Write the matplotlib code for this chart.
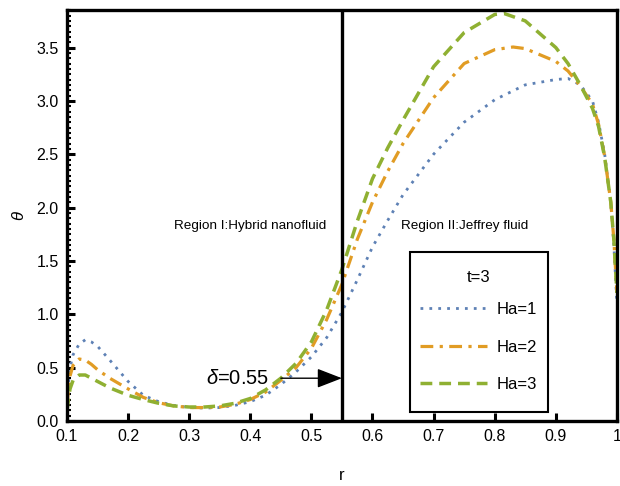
import matplotlib
matplotlib.use("Agg")
import matplotlib.pyplot as plt
from matplotlib.ticker import MultipleLocator, FixedLocator
from matplotlib.patches import Rectangle

plt.rcParams['font.family'] = ['Liberation Sans', 'DejaVu Sans']
plt.rcParams['mathtext.fontset'] = 'custom'
plt.rcParams['mathtext.it'] = 'Liberation Sans:italic'
plt.rcParams['mathtext.rm'] = 'Liberation Sans'

# ---- data ----
r1 = [0.1, 0.105, 0.11, 0.12, 0.13, 0.14, 0.15, 0.17, 0.2, 0.225, 0.25, 0.275, 0.3, 0.325, 0.35,
      0.375, 0.4, 0.425, 0.45, 0.475, 0.5, 0.525, 0.55, 0.575, 0.6, 0.625, 0.65, 0.7, 0.75, 0.8,
      0.85, 0.9, 0.92, 0.94, 0.96, 0.97, 0.98, 0.99, 0.995, 1.0]
ha1 = [0.2, 0.5, 0.62, 0.72, 0.76, 0.74, 0.70, 0.57, 0.37, 0.24, 0.18, 0.145, 0.125, 0.12, 0.125,
       0.145, 0.18, 0.24, 0.34, 0.46, 0.6, 0.78, 1.02, 1.32, 1.63, 1.88, 2.12, 2.5, 2.8, 3.01,
       3.15, 3.2, 3.21, 3.15, 3.0, 2.8, 2.5, 2.05, 1.65, 1.1]

r2 = [0.1, 0.105, 0.11, 0.12, 0.13, 0.14, 0.15, 0.17, 0.2, 0.225, 0.25, 0.275, 0.3, 0.325, 0.35,
      0.375, 0.4, 0.425, 0.45, 0.475, 0.5, 0.525, 0.55, 0.575, 0.6, 0.625, 0.65, 0.7, 0.75, 0.8,
      0.83, 0.85, 0.9, 0.92, 0.94, 0.96, 0.97, 0.98, 0.99, 0.995, 1.0]
ha2 = [0.15, 0.42, 0.52, 0.58, 0.57, 0.53, 0.48, 0.4, 0.3, 0.22, 0.17, 0.14, 0.125, 0.125, 0.13,
       0.155, 0.2, 0.27, 0.38, 0.5, 0.68, 0.95, 1.28, 1.7, 2.05, 2.34, 2.6, 3.03, 3.35, 3.48,
       3.505, 3.49, 3.37, 3.28, 3.14, 2.97, 2.78, 2.48, 2.05, 1.7, 1.2]

r3 = [0.1, 0.105, 0.11, 0.12, 0.13, 0.14, 0.15, 0.17, 0.2, 0.225, 0.25, 0.275, 0.3, 0.325, 0.35,
      0.375, 0.4, 0.425, 0.45, 0.475, 0.5, 0.525, 0.55, 0.575, 0.6, 0.625, 0.65, 0.7, 0.75, 0.8,
      0.815, 0.85, 0.9, 0.92, 0.94, 0.96, 0.97, 0.98, 0.99, 0.995, 1.0]
ha3 = [0.1, 0.3, 0.38, 0.43, 0.43, 0.4, 0.37, 0.31, 0.24, 0.2, 0.165, 0.14, 0.13, 0.13, 0.14,
       0.165, 0.21, 0.29, 0.4, 0.54, 0.74, 1.04, 1.42, 1.87, 2.27, 2.56, 2.82, 3.32, 3.64, 3.81,
       3.82, 3.75, 3.5, 3.35, 3.15, 2.93, 2.76, 2.47, 2.05, 1.7, 1.2]

labels = ["Ha=1", "Ha=2", "Ha=3"]
xticks = [0.1, 0.2, 0.3, 0.4, 0.5, 0.6, 0.7, 0.8, 0.9, 1.0]
xticklabels = ["0.1", "0.2", "0.3", "0.4", "0.5", "0.6", "0.7", "0.8", "0.9", "1"]
yticks = [0.0, 0.5, 1.0, 1.5, 2.0, 2.5, 3.0, 3.5]
yticklabels = ["0.0", "0.5", "1.0", "1.5", "2.0", "2.5", "3.0", "3.5"]
delta = 0.55

c_blue = "#5E81B5"
c_orange = "#E19C24"
c_green = "#8FB032"

fig = plt.figure(figsize=(6.2, 4.86), dpi=100)
ax = fig.add_axes([0.108, 0.134, 0.887, 0.845])

ax.plot(r1, ha1, color=c_blue, lw=2.0, linestyle=(0, (1, 2.2)), label=labels[0])
ax.plot(r2, ha2, color=c_orange, lw=2.3, linestyle=(0, (4, 2, 1, 2)), label=labels[1])
ax.plot(r3, ha3, color=c_green, lw=2.5, linestyle=(0, (3.4, 2.0)), label=labels[2])

ax.axvline(delta, color="black", lw=2.4)

ax.set_xlim(0.1, 1.0)
ax.set_ylim(0.0, 3.85)

for s in ax.spines.values():
    s.set_linewidth(2.4)

ax.xaxis.set_major_locator(FixedLocator(xticks))
ax.set_xticklabels(xticklabels)
ax.yaxis.set_major_locator(FixedLocator(yticks))
ax.set_yticklabels(yticklabels)
ax.yaxis.set_minor_locator(MultipleLocator(0.05))
ax.tick_params(axis='both', which='major', direction='in', length=6, width=2.2,
               labelsize=11.5, pad=6)
ax.tick_params(axis='y', which='minor', direction='in', length=3, width=1.5)
ax.tick_params(axis='x', which='minor', bottom=False)

ax.set_xlabel("r", fontsize=12, labelpad=17)
ax.set_ylabel(r"$\theta$", fontsize=12, labelpad=7)

ax.text(0.399, 1.83, "Region I:Hybrid nanofluid", fontsize=9.7, ha="center", va="center")
ax.text(0.751, 1.83, "Region II:Jeffrey fluid", fontsize=9.7, ha="center", va="center")

ax.text(0.379, 0.40, r"$\delta$=0.55", fontsize=14.5, ha="center", va="center")
ax.annotate("", xy=(delta, 0.40), xytext=(0.45, 0.40),
            arrowprops=dict(arrowstyle="-|>,head_length=1.55,head_width=0.6",
                            color="black", lw=1.0, shrinkA=0, shrinkB=0))

# legend box drawn as a rectangle, legend content without frame
ax.add_patch(Rectangle((0.6236, 0.0219), 0.2509, 0.3891, transform=ax.transAxes,
                       facecolor="white", edgecolor="black", lw=1.5, zorder=4))
leg = ax.legend(title="t=3", loc="upper left", bbox_to_anchor=(0.642, 0.368),
                fontsize=12, title_fontsize=12, handlelength=4.0, handletextpad=0.6,
                labelspacing=1.35, borderpad=0.0, frameon=False, borderaxespad=0)
leg._legend_box.sep = 12.6
leg.set_zorder(5)

fig.savefig("out.png", dpi=100)
